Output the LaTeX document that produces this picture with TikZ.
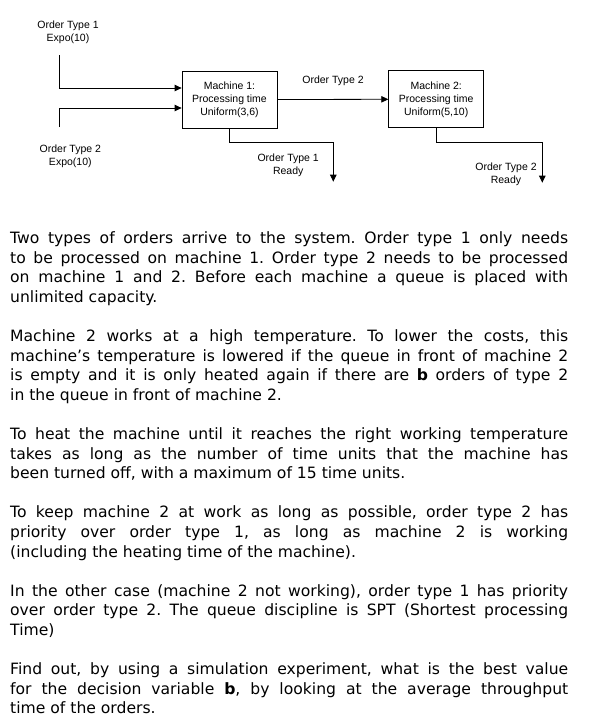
\documentclass[tikz,border=0pt]{standalone}
\usepackage{fontspec}
\setmainfont{DejaVu Sans}
\newfontfamily\arialf{Liberation Sans}
\usetikzlibrary{arrows.meta}
\newcommand\JLine[3]{\node[txt] (#1) at (10,#2) {\makebox[558pt][s]{#3}};}
\newcommand\PLine[3]{\node[txt] (#1) at (10,#2) {#3};}
\frenchspacing
\begin{document}
\begin{tikzpicture}[x=1pt,y=-1pt,
  lbl/.style={font=\arialf\fontsize{10.5}{13}\selectfont, align=center, inner sep=0pt},
  mach/.style={draw, line width=0.8pt, minimum width=95pt, minimum height=57pt, inner sep=0pt,
               font=\arialf\fontsize{10.5}{13}\selectfont, align=center},
  conn/.style={line width=0.8pt},
  arr/.style={conn, -{Triangle[length=7pt,width=6.5pt]}},
  txt/.style={anchor=base west, inner sep=0pt, font=\frenchspacing\fontsize{15.6}{19.6}\selectfont}]
\useasboundingbox (0,0) rectangle (607,728);

% diagram
\node[lbl] (src1) at (68,32.7) {Order Type 1\\Expo(10)};
\node[lbl] (src2) at (70.3,156.3) {Order Type 2\\Expo(10)};
\node[mach] (m1) at (229.5,99.5) {Machine 1:\\Processing time\\Uniform(3,6)};
\node[mach] (m2) at (436.2,99.3) {Machine 2:\\Processing time\\Uniform(5,10)};
\node[lbl] (lab12) at (333,80.7) {Order Type 2};
\node[lbl] (rdy1) at (288.2,165.5) {Order Type 1\\Ready};
\node[lbl] (rdy2) at (506,174.7) {Order Type 2\\Ready};

\coordinate (a1) at (59,55);
\coordinate (a2) at (59,127);
\coordinate (e1) at (333.3,181.7);
\coordinate (e2) at (542.3,182.7);

\draw[arr] (a1) |- ([yshift=11.5pt]m1.west);
\draw[arr] (a2) |- ([yshift=-8.5pt]m1.west);
\draw[arr] (m1.east) -- (m2.west);
\draw[arr] (m1.south) -- ++(0,13.7) -| (e1);
\draw[arr] (m2.south) -- ++(0,14.3) -| (e2);

% text
\JLine{t1}{243.5}{Two types of orders arrive to the system. Order type 1 only needs}
\JLine{t2}{263.1}{to be processed on machine 1. Order type 2 needs to be processed}
\JLine{t3}{282.7}{on machine 1 and 2. Before each machine a queue is placed with}
\PLine{t4}{302.3}{unlimited capacity.}

\JLine{t5}{341.5}{Machine 2 works at a high temperature. To lower the costs, this}
\JLine{t6}{361.1}{machine’s temperature is lowered if the queue in front of machine 2}
\JLine{t7}{380.7}{is empty and it is only heated again if there are \textbf{b} orders of type 2}
\PLine{t8}{400.3}{in the queue in front of machine 2.}

\JLine{t9}{439.5}{To heat the machine until it reaches the right working temperature}
\JLine{t10}{459.1}{takes as long as the number of time units that the machine has}
\PLine{t11}{478.7}{been turned off, with a maximum of 15 time units.}

\JLine{t12}{517.9}{To keep machine 2 at work as long as possible, order type 2 has}
\JLine{t13}{537.5}{priority over order type 1, as long as machine 2 is working}
\PLine{t14}{557.1}{(including the heating time of the machine).}

\JLine{t15}{596.3}{In the other case (machine 2 not working), order type 1 has priority}
\JLine{t16}{615.9}{over order type 2. The queue discipline is SPT (Shortest processing}
\PLine{t17}{635.5}{Time)}

\JLine{t18}{674.7}{Find out, by using a simulation experiment, what is the best value}
\JLine{t19}{694.3}{for the decision variable \textbf{b}, by looking at the average throughput}
\PLine{t20}{713.9}{time of the orders.}
\end{tikzpicture}
\end{document}
